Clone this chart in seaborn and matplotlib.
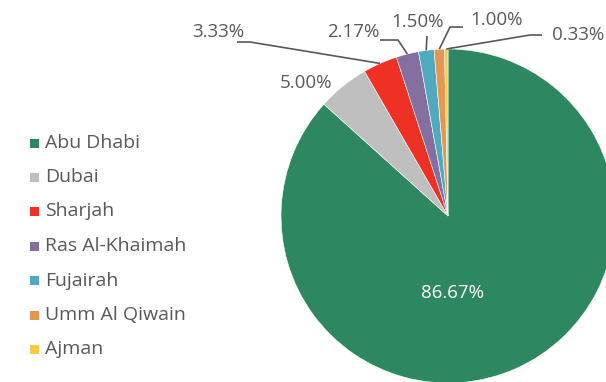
import numpy as np
import matplotlib
matplotlib.use("Agg")
import matplotlib.pyplot as plt
import seaborn as sns
from matplotlib.patches import Rectangle

# Share of each emirate
emirates = ["Abu Dhabi", "Dubai", "Sharjah", "Ras Al-Khaimah", "Fujairah",
            "Umm Al Qiwain", "Ajman"]
shares = [86.67, 5.00, 3.33, 2.17, 1.50, 1.00, 0.33]
colors = ["#2D8862", "#BFBFBF", "#EE3124", "#8470A0", "#4FA9BF",
          "#E59751", "#F9CB43"]

sns.set_theme(style="white")
plt.rcParams["font.family"] = ["Open Sans", "DejaVu Sans"]
TEXT = "#595959"

W, H = 606, 382
fig = plt.figure(figsize=(W / 100, H / 100), dpi=100)
ax = fig.add_axes([0, 0, 1, 1])

cx, cy, R = 448, H - 216, 167
wedges, _ = ax.pie(shares, colors=colors, startangle=90, counterclock=False,
                   center=(cx, cy), radius=R, frame=True,
                   wedgeprops=dict(edgecolor="white", linewidth=0.4))
ax.set_xlim(0, W)
ax.set_ylim(0, H)
ax.set_aspect("equal")
ax.axis("off")

# mid-angle of each wedge (degrees, matplotlib convention)
mids = [(w.theta1 + w.theta2) / 2 for w in wedges]

def edge_point(i, f=1.0):
    a = np.deg2rad(mids[i])
    return cx + f * R * np.cos(a), cy + f * R * np.sin(a)

fs = 13.5
# Large slice label inside the pie
ax.text(453, H - 293, f"{shares[0]:.2f}%", color="white", fontsize=fs,
        ha="center", va="center")
# Dubai label outside without leader
ax.text(306, H - 83, f"{shares[1]:.2f}%", color=TEXT, fontsize=fs,
        ha="center", va="center")

# Small slices: label position and leader path (elbow points)
label_pos = {2: (218, 32), 3: (353, 32), 4: (418, 22), 5: (497, 20), 6: (578, 35)}
elbows = {
    2: [(237, 42), (250, 42)],
    3: [(380, 40), (398, 40)],
    4: [(427, 36)],
    5: [(463, 27), (450, 27)],
    6: [(542, 35), (530, 35)],
}
for i, (lx, ly) in label_pos.items():
    ax.text(lx, H - ly, f"{shares[i]:.2f}%", color=TEXT, fontsize=fs,
            ha="center", va="center")
    pts = [(x, H - y) for x, y in elbows[i]] + [edge_point(i, 1.0)]
    xs, ys = zip(*pts)
    ax.plot(xs, ys, color=TEXT, lw=1.2, solid_capstyle="butt")

# Legend
row_y = [143, 177, 211.5, 246, 280.5, 315, 349]
for name, col, y in zip(emirates, colors, row_y):
    ax.add_patch(Rectangle((30, H - y - 4.5), 9, 9, color=col, lw=0))
    ax.text(45, H - y, name, color=TEXT, fontsize=14, ha="left", va="center")

fig.savefig("out.png", dpi=100)
